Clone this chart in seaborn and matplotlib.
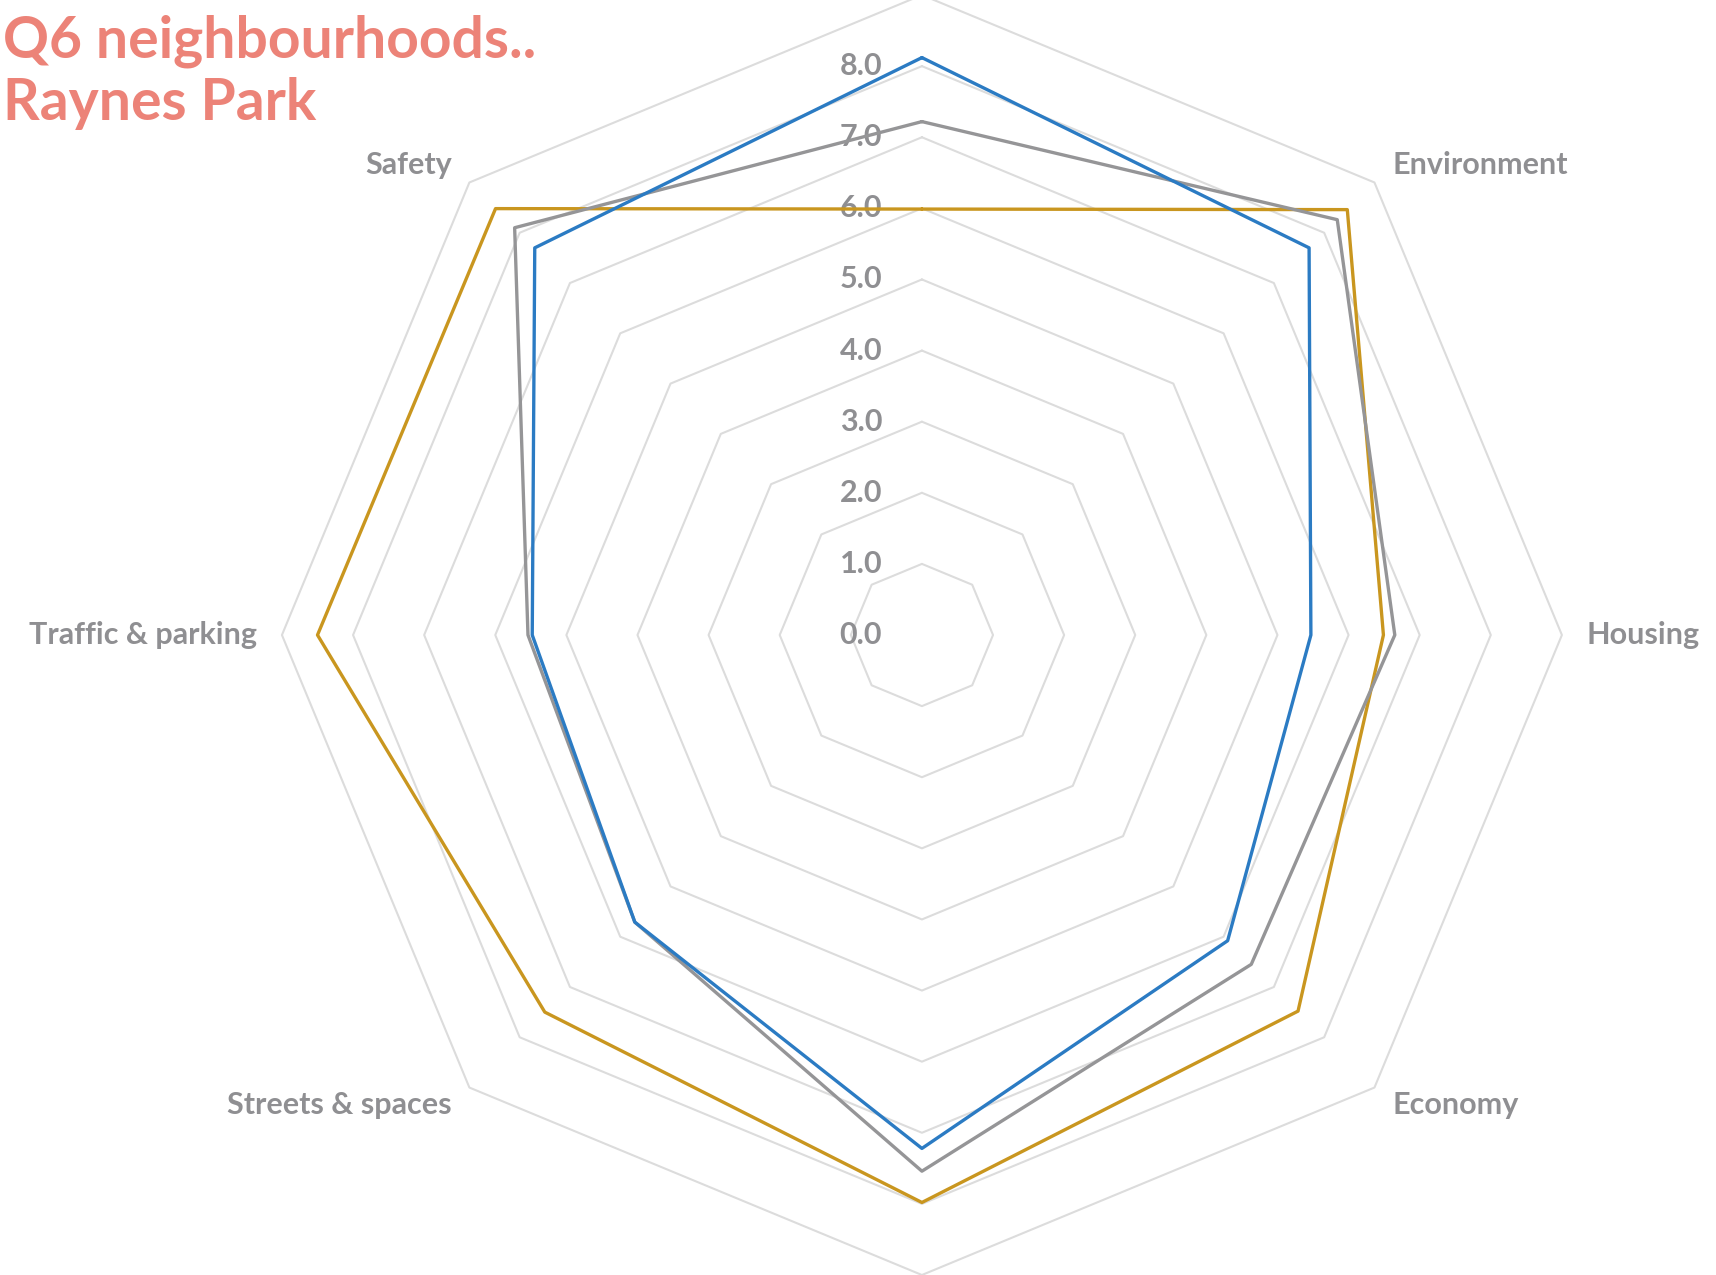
import numpy as np
import pandas as pd
import matplotlib
matplotlib.use("Agg")
import matplotlib.pyplot as plt
import matplotlib.transforms as mtransforms
import seaborn as sns

# Data

categories = ["", "Environment", "Housing", "Economy", "",
              "Streets & spaces", "Traffic & parking", "Safety"]
blue_values = [8.12, 7.70, 5.47, 6.08, 7.22, 5.71, 5.48, 7.70]
grey_values = [7.22, 8.26, 6.65, 6.55, 7.54, 5.71, 5.54, 8.10]
gold_values = [5.99, 8.46, 6.49, 7.48, 7.98, 7.50, 8.50, 8.48]
ring_levels = [1, 2, 3, 4, 5, 6, 7, 8, 9]
tick_values = [0, 1, 2, 3, 4, 5, 6, 7, 8]
title_text = "Q6 neighbourhoods..\nRaynes Park"

# Style

sns.set_theme(style="white")
plt.rcParams["font.family"] = ["Lato", "DejaVu Sans"]

text_grey = "#8f8f92"
grid_grey = "#dcdcdc"
series_colors = {"blue": "#2b7bc3", "grey": "#959597", "gold": "#c9961f"}

n = len(categories)
angles = np.linspace(0, 2 * np.pi, n, endpoint=False)
angles_closed = np.append(angles, angles[0])

fig = plt.figure(figsize=(17.16, 12.75), dpi=100)
ax = fig.add_axes([0.1643, 0.0, 0.7459, 1.0039], polar=True)
ax.set_theta_zero_location("N")
ax.set_theta_direction(-1)
ax.set_ylim(0, 9)
ax.grid(False)
ax.set_xticks([])
ax.set_yticks([])
ax.spines["polar"].set_visible(False)
ax.patch.set_alpha(0)

# Octagon grid rings
for lvl in ring_levels:
    ax.plot(angles_closed, [lvl] * (n + 1), color=grid_grey, lw=1.5,
            zorder=1, clip_on=False)

# Series
series = pd.DataFrame({
    "blue": blue_values,
    "grey": grey_values,
    "gold": gold_values,
})
for name in ["gold", "grey", "blue"]:
    vals = np.append(series[name].values, series[name].values[0])
    sns.lineplot(x=angles_closed, y=vals, ax=ax, sort=False, estimator=None,
                 color=series_colors[name], lw=2.4, zorder=3)
ax.set_xlabel("")
ax.set_ylabel("")

# Radial tick labels
offset = mtransforms.offset_copy(ax.transData, fig=fig, x=-61, y=0, units="dots")
for v in tick_values:
    ax.text(0, v, f"{v:.1f}", transform=offset, ha="center", va="center",
            fontsize=22, fontweight="bold", color=text_grey, zorder=2)

# Category labels
label_r = 9.35
for ang, lab in zip(angles, categories):
    s = np.sin(ang)
    if abs(s) < 1e-6:
        ha = "center"
    elif s > 0:
        ha = "left"
    else:
        ha = "right"
    ax.text(ang, label_r, lab, ha=ha, va="center", fontsize=22,
            fontweight="bold", color=text_grey, clip_on=False)

# Title
fig.text(0.002, 0.989, title_text, ha="left", va="top", fontsize=41,
         fontweight="bold", color="#ec8378", linespacing=1.22)

fig.savefig("out.png", dpi=100)
